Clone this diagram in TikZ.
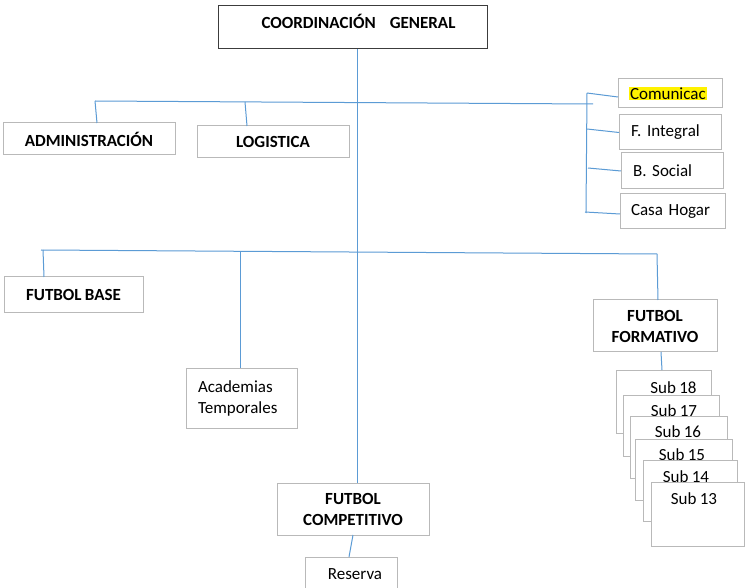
\documentclass[tikz,border=0pt]{standalone}
\usepackage{fontspec}
\setmainfont[WordSpace=0.85]{Carlito}
\frenchspacing
\definecolor{lineblue}{RGB}{91,155,213}
\definecolor{boxgray}{RGB}{185,185,185}
\definecolor{darkline}{RGB}{60,60,60}
\newcommand\myhl[1]{{\setlength{\fboxsep}{1pt}\colorbox{yellow}{#1}}}
\begin{document}
\begin{tikzpicture}[x=1pt,y=-1pt,
  box/.style={draw=boxgray, fill=white, line width=1pt, inner sep=0pt, outer sep=0pt, align=center,
    font=\fontsize{17}{21}\selectfont},
  lbox/.style={box, align=left},
  conn/.style={draw=lineblue, line width=1pt},
  txt/.style={inner sep=0pt, font=\fontsize{17}{21}\selectfont}]
\fill[white] (0,0) rectangle (745,588);
\useasboundingbox (0,0) rectangle (745,588);

% top
\node[box, draw=darkline, minimum width=269, minimum height=43] (cg) at (352.5,27.5)
  {\hspace{12pt}\raisebox{12pt}{\bfseries COORDINACIÓN\hspace{14pt}GENERAL}};

\node[box, minimum width=172, minimum height=32] (adm) at (89,139) {\bfseries ADMINISTRACIÓN};
\node[box, minimum width=152, minimum height=32] (log) at (273,142) {\bfseries LOGISTICA};

\node[lbox, minimum height=29, inner xsep=11, text width=82] (com) at (670,93.5) {\myhl{Comunicac}};
\node[lbox, minimum height=35, inner xsep=12, text width=78] (fint) at (670,132.5) {F. Integral};
\node[lbox, minimum height=36, inner xsep=12, text width=78] (bsoc) at (672,171) {B. Social};
\node[lbox, minimum height=35, inner xsep=11, text width=83] (casa) at (672.5,211.5) {Casa Hogar};

\node[box, minimum width=139, minimum height=36] (fbase) at (73.5,295) {\bfseries FUTBOL BASE};
\node[lbox, minimum height=60, inner xsep=12, text width=87] (acad) at (241.5,398) {Academias\\Temporales};
\node[box, minimum width=124, minimum height=52] (ff) at (655,326) {\bfseries FUTBOL\\\bfseries FORMATIVO};
\node[box, minimum width=152, minimum height=52] (fc) at (353,509) {\bfseries FUTBOL\\\bfseries COMPETITIVO};
\node[box, minimum width=92, minimum height=43] (res) at (351,578.5) {\hspace{8pt}\raisebox{8pt}{Reserva}};

% stacked sub boxes
\node[box, minimum width=95, minimum height=63] (s18) at (663.5,401.5) {};
\node[txt] (s18t) at (673.5,388) {Sub 18};
\node[box, minimum width=96, minimum height=61] (s17) at (671,425.5) {};
\node[txt] (s17t) at (674,411) {Sub 17};
\node[box, minimum width=97, minimum height=62] (s16) at (678.5,447) {};
\node[txt] (s16t) at (678,432) {Sub 16};
\node[box, minimum width=97, minimum height=61] (s15) at (683.5,469.5) {};
\node[txt] (s15t) at (682,455) {Sub 15};
\node[box, minimum width=94, minimum height=61] (s14) at (690,490.5) {};
\node[txt] (s14t) at (686,477) {Sub 14};
\node[box, minimum width=93, minimum height=64] (s13) at (697.5,514) {};
\node[txt] (s13t) at (694,499) {Sub 13};

% connectors
\coordinate (h1a) at (95,101);
\coordinate (h1l) at (245,102);
\coordinate (h1b) at (593,104);
\draw[conn] (h1a) -- (h1b);
\draw[conn] (h1a) -- ([xshift=8pt]adm.north);
\draw[conn] (h1l) -- ([xshift=-26pt]log.north);
\draw[conn] ([xshift=4.5pt]cg.south) -- ([xshift=4pt]fc.north);

\coordinate (rb1) at (587,93);
\coordinate (rb2) at (587,129);
\coordinate (rb3) at (588,168);
\coordinate (rb4) at (585,212);
\coordinate (rbe) at (586,213);
\draw[conn] (rb1) -- (rbe);
\draw[conn] (rb1) -- ([yshift=-3.5pt]com.west);
\draw[conn] (rb2) -- (fint.west);
\draw[conn] (rb3) -- (bsoc.west);
\draw[conn] (rb4) -- ([yshift=-2.5pt]casa.west);

\coordinate (h2a) at (41,250);
\coordinate (h2m) at (240,252);
\coordinate (h2b) at (657,254);
\draw[conn] (h2a) -- (h2b);
\draw[conn] ([xshift=2pt]h2a) -- ([xshift=-29.5pt]fbase.north);
\draw[conn] (h2m) -- ([xshift=-1.5pt]acad.north);
\draw[conn] (h2b) -- ([xshift=3pt]ff.north);
\draw[conn] ([xshift=6pt]ff.south) -- ([xshift=-1.5pt]s18.north);
\draw[conn] (fc.south) -- ([xshift=-2pt]res.north);
\end{tikzpicture}
\end{document}
